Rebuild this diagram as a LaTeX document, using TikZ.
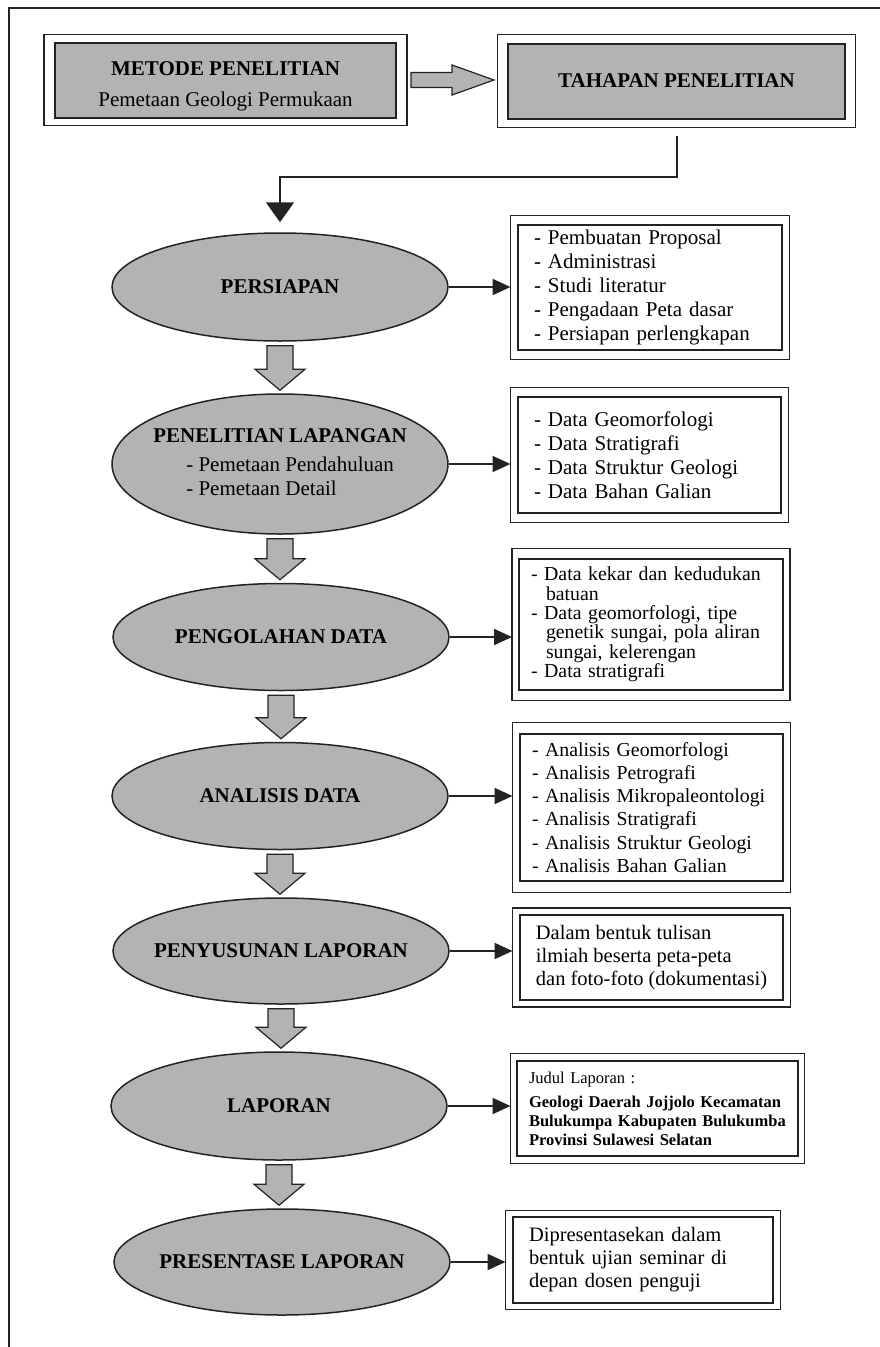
\documentclass[tikz,border=0pt]{standalone}
\usepackage{fontspec}
\setmainfont{Liberation Serif}
\usetikzlibrary{arrows.meta,shapes.geometric,calc}
\definecolor{boxgray}{RGB}{179,179,179}
\definecolor{inkgray}{RGB}{35,35,35}

\begin{document}
\begin{tikzpicture}[x=1pt, y=-1pt,
  every node/.style={font=\fontsize{21}{24}\selectfont},
  headbox/.style={draw=inkgray, line width=2pt, fill=boxgray, minimum height=75pt, align=center, inner sep=0pt},
  stage/.style={ellipse, draw=inkgray, line width=1.5pt, fill=boxgray, minimum width=336pt, inner sep=0pt, font=\fontsize{21}{24}\selectfont\bfseries},
  listbox/.style={draw=inkgray, line width=2pt, inner xsep=16pt, inner ysep=0pt, align=left},
  outerframe/.style={draw=inkgray, line width=1.2pt},
  blockarrow/.style={draw=inkgray, line width=1.2pt, fill=boxgray, line join=miter},
  sidearrow/.style={draw=inkgray, line width=2pt, -{Triangle[length=18pt,width=16pt]}},
  conn/.style={draw=inkgray, line width=2pt, -{Triangle[length=20pt,width=28pt]}}]
  \useasboundingbox (0,0) rectangle (880,1347);
  % --- page frame ---
  \draw[line width=2pt, inkgray] (9,1347) -- (9,8) -- (880,8);
  % --- header boxes ---
  \node[headbox, minimum width=341pt] (metode) at (225.5,80)
    {\rule{0pt}{27pt}{\bfseries METODE PENELITIAN}\\[7pt] Pemetaan Geologi Permukaan};
  \node[headbox, minimum width=337pt, font=\fontsize{21}{24}\selectfont\bfseries] (tahapan) at (676.5,81)
    {TAHAPAN PENELITIAN};
  % --- stages ---
  \node[stage, minimum height=108pt] (persiapan) at (280,287) {\makebox[0pt]{PERSIAPAN}};
  \node[stage, minimum height=140pt] (lapangan) at (280,464) {\makebox[0pt]{\begin{tabular}{@{}l@{}}
      \multicolumn{1}{@{}c@{}}{PENELITIAN LAPANGAN}\\[5pt]
      \mdseries\hspace*{33pt}- Pemetaan Pendahuluan\\
      \mdseries\hspace*{33pt}- Pemetaan Detail\end{tabular}}};
  \node[stage, minimum height=107pt] (olah) at (281,637) {\makebox[0pt]{PENGOLAHAN DATA}};
  \node[stage, minimum height=107pt] (analisis) at (280,796) {\makebox[0pt]{ANALISIS DATA}};
  \node[stage, minimum height=106pt] (susun) at (281,951) {\makebox[0pt]{PENYUSUNAN LAPORAN}};
  \node[stage, minimum height=108pt] (laporan) at (279,1106) {\makebox[0pt]{LAPORAN}};
  \node[stage, minimum height=106pt] (presentasi) at (282,1262) {\makebox[0pt]{PRESENTASE LAPORAN}};
  % --- detail boxes ---
  \node[listbox, text width=232pt, minimum height=125pt] (b1) at (650,287.5)
    {- Pembuatan Proposal\\ - Administrasi\\ - Studi literatur\\ - Pengadaan Peta dasar\\ - Persiapan perlengkapan};
  \node[listbox, text width=231pt, minimum height=116pt] (b2) at (649.5,455)
    {- Data Geomorfologi\\ - Data Stratigrafi\\ - Data Struktur Geologi\\ - Data Bahan Galian};
  \node[listbox, inner xsep=12pt, text width=240pt, minimum height=131pt, font=\fontsize{19.8}{19.3}\selectfont] (b3) at (651,624.5)
    {- Data kekar dan kedudukan\\ \hspace*{15pt}batuan\\ - Data geomorfologi, tipe\\ \hspace*{15pt}genetik sungai, pola aliran\\
     \hspace*{15pt}sungai, kelerengan\\ - Data stratigrafi};
  \node[listbox, inner xsep=12pt, text width=239pt, minimum height=147pt, font=\fontsize{19.8}{23.2}\selectfont] (b4) at (651.5,807.5)
    {- Analisis Geomorfologi\\ - Analisis Petrografi\\ - Analisis Mikropaleontologi\\ - Analisis Stratigrafi\\
     - Analisis Struktur Geologi\\ - Analisis Bahan Galian};
  \node[listbox, inner xsep=0pt, minimum width=263pt, minimum height=85pt, font=\fontsize{20.5}{23}\selectfont] (b5) at (651.5,957.5)
    {Dalam bentuk tulisan\\ ilmiah beserta peta-peta\\ dan foto-foto (dokumentasi)};
  \node[listbox, inner xsep=12pt, text width=257pt, minimum height=95pt, font=\fontsize{16.5}{19}\selectfont] (b6) at (657.5,1108.5)
    {Judul Laporan :\\[5pt] \bfseries Geologi Daerah Jojjolo Kecamatan\\ \bfseries Bulukumpa Kabupaten Bulukumba\\
     \bfseries Provinsi Sulawesi Selatan};
  \node[listbox, text width=228pt, minimum height=86pt, font=\fontsize{20.5}{23}\selectfont] (b7) at (643,1260)
    {Dipresentasekan dalam\\ bentuk ujian seminar di\\ depan dosen penguji};
  % --- outer frames of the boxes ---
  \foreach \n/\gx/\gy in {metode/10/7, tahapan/9.5/8, b1/6.5/8.5, b2/6.5/8.5, b3/6/9.5, b4/6.5/10.5,
                          b5/6.5/6, b6/5.5/6.5, b7/6.5/5.5}{
    \draw[outerframe] ([shift={(-\gx pt,\gy pt)}]\n.north west) rectangle ([shift={(\gx pt,-\gy pt)}]\n.south east);
  }
  % --- header arrow ---
  \draw[blockarrow] let \p1=([xshift=14pt]metode.east), \p2=([xshift=-13pt]tahapan.west) in
    (\x1,\y1-7.5pt) -- (\x2-42pt,\y1-7.5pt) -- (\x2-42pt,\y1-15pt) -- (\x2,\y1)
    -- (\x2-42pt,\y1+15pt) -- (\x2-42pt,\y1+7.5pt) -- (\x1,\y1+7.5pt) -- cycle;
  % --- from tahapan down to persiapan ---
  \draw[conn] ([yshift=-16pt]tahapan.south) |- ([yshift=55pt]persiapan.north) -- ([yshift=10pt]persiapan.north);
  % --- gray arrows between stages ---
  \foreach \a/\b in {persiapan/lapangan, lapangan/olah, olah/analisis, analisis/susun, susun/laporan, laporan/presentasi}{
    \draw[blockarrow] let \p1=([yshift=-4pt]\a.south), \p2=([yshift=3pt]\b.north) in
      (\x1-13pt,\y1) -- (\x1+13pt,\y1) -- (\x1+13pt,\y2+21pt) -- (\x1+25pt,\y2+21pt) -- (\x1,\y2)
      -- (\x1-25pt,\y2+21pt) -- (\x1-13pt,\y2+21pt) -- cycle;
  }
  % --- arrows to detail boxes ---
  \foreach \e/\b/\gx in {persiapan/b1/6.5, lapangan/b2/6.5, olah/b3/6, analisis/b4/6.5, susun/b5/6.5,
                         laporan/b6/5.5, presentasi/b7/6.5}{
    \draw[sidearrow] (\e.east) -- ($(\e.east -| \b.west)-(\gx,0)$);
  }
\end{tikzpicture}
\end{document}
